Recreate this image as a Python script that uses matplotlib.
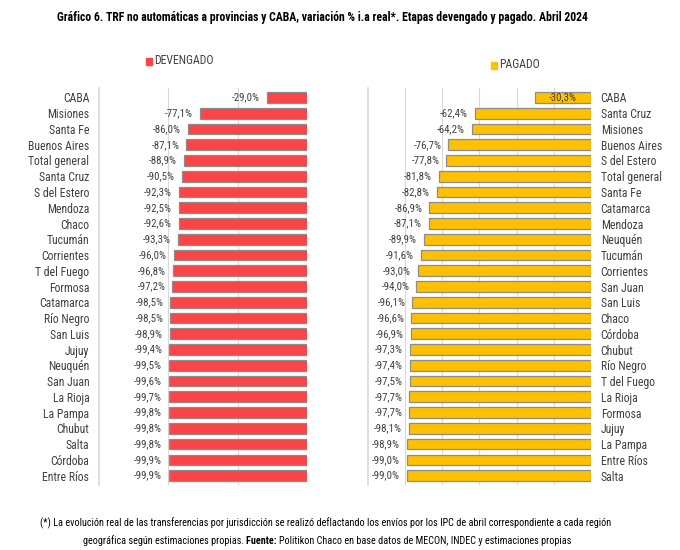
import matplotlib.pyplot as plt
from matplotlib import font_manager

# Devengado (left panel), ordered top to bottom
dev_names = ["CABA", "Misiones", "Santa Fe", "Buenos Aires", "Total general", "Santa Cruz",
             "S del Estero", "Mendoza", "Chaco", "Tucumán", "Corrientes", "T del Fuego",
             "Formosa", "Catamarca", "Río Negro", "San Luis", "Jujuy", "Neuquén", "San Juan",
             "La Rioja", "La Pampa", "Chubut", "Salta", "Córdoba", "Entre Ríos"]
dev_values = [-29.0, -77.1, -86.0, -87.1, -88.9, -90.5, -92.3, -92.5, -92.6, -93.3, -96.0,
              -96.8, -97.2, -98.5, -98.5, -98.9, -99.4, -99.5, -99.6, -99.7, -99.8, -99.8,
              -99.8, -99.9, -99.9]

# Pagado (right panel), ordered top to bottom
pag_names = ["CABA", "Santa Cruz", "Misiones", "Buenos Aires", "S del Estero", "Total general",
             "Santa Fe", "Catamarca", "Mendoza", "Neuquén", "Tucumán", "Corrientes", "San Juan",
             "San Luis", "Chaco", "Córdoba", "Chubut", "Río Negro", "T del Fuego", "La Rioja",
             "Formosa", "Jujuy", "La Pampa", "Entre Ríos", "Salta"]
pag_values = [-30.3, -62.4, -64.2, -76.7, -77.8, -81.8, -82.8, -86.9, -87.1, -89.9, -91.6,
              -93.0, -94.0, -96.1, -96.6, -96.9, -97.3, -97.4, -97.5, -97.7, -97.7, -98.1,
              -98.9, -99.0, -99.0]

RED = "#FA4446"
YELLOW = "#FFC000"
EDGE = "#8C8C8C"
GRID = "#D9D9D9"
TXT = "#404040"

# narrow font if there is one, otherwise Roboto
avail = {f.name for f in font_manager.fontManager.ttflist}
narrow = [n for n in ["Liberation Sans Narrow", "DejaVu Sans Condensed", "Roboto Condensed"] if n in avail]
FONT = narrow[0] if narrow else "Roboto"
plt.rcParams['font.family'] = [FONT, 'DejaVu Sans']
if not narrow:
    plt.rcParams['font.stretch'] = 'condensed'

fig = plt.figure(figsize=(6.8, 5.5), dpi=100)


def fmt(v):
    return f"{v:.1f}%".replace(".", ",")


def panel(ax, names, values, color, xmin, ticks, labels_right, inside_first):
    y = list(range(len(names)))
    ax.barh(y, values, height=0.68, color=color, edgecolor=EDGE, linewidth=0.9, zorder=3)
    ax.set_xlim(xmin, 0)
    ax.set_ylim(len(names) - 0.4, -0.6)
    ax.set_xticks(ticks)
    ax.grid(axis="x", color=GRID, linewidth=0.8, zorder=0)
    ax.tick_params(axis="x", length=0, labelbottom=False)
    for s in ["top", "bottom", "right"]:
        ax.spines[s].set_visible(False)
    ax.spines["left"].set_color(GRID)
    ax.spines["left"].set_linewidth(1.2)
    ax.set_yticks(y)
    ax.set_yticklabels(names, fontsize=8.5, color=TXT)
    if labels_right:
        ax.yaxis.tick_right()
    ax.tick_params(axis="y", length=0, pad=7)
    for i, v in enumerate(values):
        if inside_first and i == 0:
            ax.text(v / 2, i, fmt(v), ha="center", va="center", fontsize=7.8, color=TXT, zorder=4)
        else:
            ax.annotate(fmt(v), (v, i), xytext=(-5, 0), textcoords="offset points",
                        ha="right", va="center", fontsize=7.8, color=TXT)


ax1 = fig.add_axes([0.1456, 0.118, 0.306, 0.722])
panel(ax1, dev_names, dev_values, RED, -150, [-100, -50, 0], False, False)

ax2 = fig.add_axes([0.541, 0.118, 0.328, 0.722])
panel(ax2, pag_names, pag_values, YELLOW, -120, [-100, -80, -60, -40, -20, 0], True, True)

# legends
fig.patches.append(plt.Rectangle((146 / 680, 1 - 65 / 550), 6 / 680, 7 / 550, color=RED,
                                 transform=fig.transFigure, figure=fig))
fig.text(154 / 680, 1 - 61 / 550, "DEVENGADO", fontsize=8.5, color=TXT, va="center")
fig.patches.append(plt.Rectangle((491 / 680, 1 - 69 / 550), 6 / 680, 7 / 550, color=YELLOW,
                                 transform=fig.transFigure, figure=fig))
fig.text(499 / 680, 1 - 65 / 550, "PAGADO", fontsize=8.5, color=TXT, va="center")

title = "Gráfico 6. TRF no automáticas a provincias y CABA, variación % i.a real*. Etapas devengado y pagado. Abril 2024"
t = fig.text(57 / 680, 1 - 17 / 550, title, fontsize=9, fontweight="bold", color="black", va="center")

# footnote, second line has a bold "Fuente:"
fig.text(326 / 680, 1 - 523 / 550,
         "(*) La evolución real de las transferencias por jurisdicción se realizó deflactando los envíos por los IPC de abril correspondiente a cada región",
         fontsize=7.3, color="black", va="center", ha="center")
fig.canvas.draw()
parts = [("geográfica según estimaciones propias. ", "normal"), ("Fuente: ", "bold"),
         ("Politikon Chaco en base datos de MECON, INDEC y estimaciones propias", "normal")]
r = fig.canvas.get_renderer()
texts = [fig.text(0, 1 - 541 / 550, s, fontsize=7.3, fontweight=w, color="black", va="center")
         for s, w in parts]
widths = [tx.get_window_extent(r).width for tx in texts]
x = 327 - sum(widths) / 2
for tx, w in zip(texts, widths):
    tx.set_x(x / 680)
    x += w

# shrink the title if it runs off the figure
bb = t.get_window_extent(r)
if bb.x1 > 592:
    t.set_fontsize(9 * (592 - bb.x0) / bb.width)

fig.savefig("out.png", dpi=100, facecolor="white")
